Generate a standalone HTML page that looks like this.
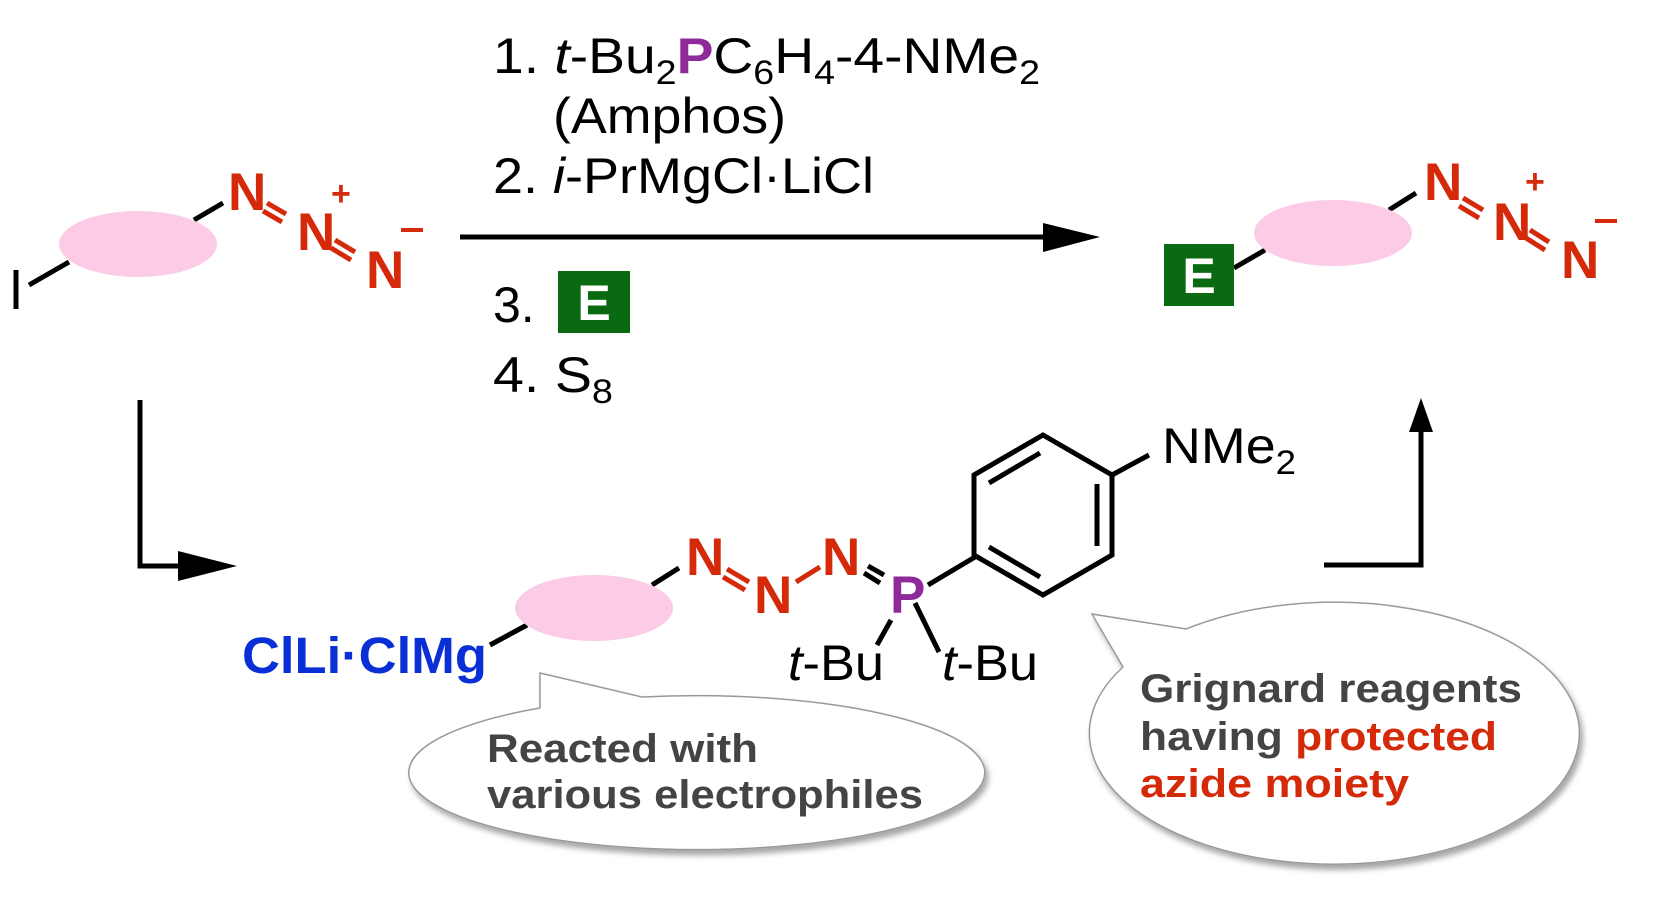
<!DOCTYPE html>
<html><head><meta charset="utf-8"><style>
html,body{margin:0;padding:0;background:#fff}
svg{display:block}
text{font-family:"Liberation Sans",sans-serif}
</style></head><body>
<svg width="1669" height="901" viewBox="0 0 1669 901" xmlns="http://www.w3.org/2000/svg">
<defs>
<filter id="sh" x="-10%" y="-10%" width="130%" height="130%">
<feDropShadow dx="3" dy="5" stdDeviation="3" flood-color="#000" flood-opacity="0.35"/>
</filter>
</defs>
<g stroke="#000" stroke-width="5" fill="none" stroke-linecap="butt">
<line x1="16" y1="270" x2="16" y2="309"/>
<line x1="29" y1="285" x2="69" y2="262"/>
<line x1="194" y1="220" x2="223" y2="203"/>
<line x1="1234" y1="268" x2="1265" y2="250"/>
<line x1="1389" y1="210" x2="1416" y2="193"/>
<line x1="460" y1="237" x2="1050" y2="237"/>
<polyline points="140,400 140,566 190,566"/>
<polyline points="1324,565 1421,565 1421,425"/>
<line x1="490" y1="645" x2="527" y2="625"/>
<line x1="652" y1="585" x2="679" y2="568"/>
<line x1="928" y1="585" x2="975" y2="557"/>
<polygon points="1043,435 1112,475 1112,555 1043,595 974,555 974,475"/>
<line x1="989" y1="483" x2="1040" y2="453"/>
<line x1="1097" y1="484" x2="1097" y2="546"/>
<line x1="989" y1="547" x2="1040" y2="577"/>
<line x1="1112" y1="475" x2="1149" y2="455"/>
<line x1="891" y1="620" x2="877" y2="645"/>
<line x1="915" y1="603" x2="939" y2="652"/>
<line x1="868" y1="566" x2="884" y2="575"/>
<line x1="864" y1="573" x2="880" y2="583"/>
</g>
<g fill="#000">
<polygon points="1043,223 1100,237 1043,252"/>
<polygon points="178,551 237,566 178,581"/>
<polygon points="1421,398 1409,432 1433,432"/>
</g>
<g fill="#fccbe6">
<ellipse cx="138" cy="244" rx="79" ry="33"/>
<ellipse cx="1333" cy="233" rx="79" ry="33"/>
<ellipse cx="594" cy="608" rx="79" ry="33"/>
</g>
<g stroke="#d42a0a" stroke-width="5">
<line x1="267" y1="203" x2="286" y2="214"/><line x1="263" y1="211" x2="282" y2="222"/>
<line x1="335" y1="240" x2="355" y2="252"/><line x1="331" y1="248" x2="351" y2="260"/>
<line x1="1463" y1="198" x2="1483" y2="210"/><line x1="1459" y1="206" x2="1479" y2="218"/>
<line x1="1530" y1="230" x2="1549" y2="242"/><line x1="1526" y1="238" x2="1545" y2="250"/>
<line x1="727" y1="569" x2="749" y2="582"/><line x1="723" y1="577" x2="745" y2="590"/>
<line x1="796" y1="582" x2="820" y2="567"/>
</g>
<g fill="#d42a0a" font-weight="bold" font-size="53">
<text x="228" y="210">N</text><text x="297" y="250">N</text><text x="366" y="288">N</text>
<text x="1424" y="200">N</text><text x="1493" y="240">N</text><text x="1561" y="278">N</text>
<text x="686" y="575">N</text><text x="754" y="613">N</text><text x="822" y="575">N</text>
</g>
<g fill="#d42a0a" font-weight="bold" font-size="34">
<text x="331" y="205">+</text><text x="1525" y="193">+</text>
</g>
<g fill="#d42a0a"><rect x="401" y="228" width="22" height="4"/><rect x="1595" y="219" width="22" height="4"/></g>
<text x="890" y="613" font-size="53" font-weight="bold" fill="#8e2a9a">P</text>
<rect x="558" y="271" width="72" height="62" fill="#0a6a12"/>
<text x="594" y="320" font-size="50" font-weight="bold" fill="#fff" text-anchor="middle">E</text>
<rect x="1164" y="244" width="70" height="62" fill="#0a6a12"/>
<text x="1199" y="293" font-size="50" font-weight="bold" fill="#fff" text-anchor="middle">E</text>
<g font-size="50" fill="#000">
<text x="493" y="73" textLength="547" lengthAdjust="spacingAndGlyphs">1. <tspan font-style="italic">t</tspan>-Bu<tspan font-size="34" dy="11">2</tspan><tspan dy="-11" fill="#8e2a9a" font-weight="bold">P</tspan>C<tspan font-size="34" dy="11">6</tspan><tspan dy="-11">H</tspan><tspan font-size="34" dy="11">4</tspan><tspan dy="-11">-4-NMe</tspan><tspan font-size="34" dy="11">2</tspan></text>
<text x="553" y="133" textLength="233" lengthAdjust="spacingAndGlyphs">(Amphos)</text>
<text x="493" y="193" textLength="381" lengthAdjust="spacingAndGlyphs">2. <tspan font-style="italic">i</tspan>-PrMgCl·LiCl</text>
<text x="493" y="322">3.</text>
<text x="493" y="392" textLength="120" lengthAdjust="spacingAndGlyphs">4. S<tspan font-size="34" dy="11">8</tspan></text>
<text x="1162" y="463" textLength="134" lengthAdjust="spacingAndGlyphs">NMe<tspan font-size="34" dy="11">2</tspan></text>
<text x="788" y="680" textLength="96" lengthAdjust="spacingAndGlyphs"><tspan font-style="italic">t</tspan>-Bu</text>
<text x="942" y="680" textLength="96" lengthAdjust="spacingAndGlyphs"><tspan font-style="italic">t</tspan>-Bu</text>
</g>
<text x="242" y="673" font-size="51" font-weight="bold" fill="#0a2fd6" textLength="245" lengthAdjust="spacingAndGlyphs">ClLi·ClMg</text>
<g fill="#fff" stroke="#999" stroke-width="1.5" filter="url(#sh)">
<path d="M540,673 L642,697 A288,77 0 1 1 540,708 Z"/>
<path d="M1092,614 L1186,629 A245,131 0 1 1 1123,667 Z"/>
</g>
<g fill="#fff"><path d="M541,675 L640,698 L560,705 Z"/><path d="M1094,616 L1184,630 L1123,665 Z"/></g>
<g font-size="40" font-weight="bold" fill="#444">
<text x="487" y="762" textLength="271" lengthAdjust="spacingAndGlyphs">Reacted with</text>
<text x="487" y="808" textLength="436" lengthAdjust="spacingAndGlyphs">various electrophiles</text>
<text x="1140" y="702" textLength="382" lengthAdjust="spacingAndGlyphs">Grignard reagents</text>
<text x="1140" y="750" textLength="357" lengthAdjust="spacingAndGlyphs">having <tspan fill="#d42a0a">protected</tspan></text>
<text x="1140" y="797" fill="#d42a0a" textLength="269" lengthAdjust="spacingAndGlyphs">azide moiety</text>
</g>
</svg>
</body></html>
